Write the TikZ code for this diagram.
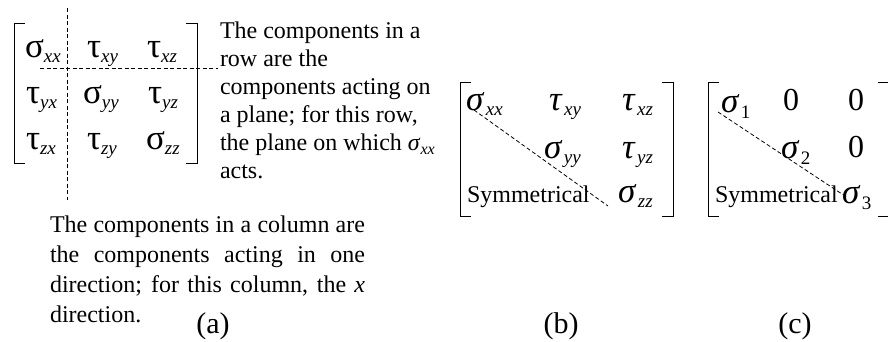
\documentclass[tikz,border=0pt]{standalone}
\usepackage{fontspec}
\setmainfont{Liberation Serif}
\usepackage{tikz}
\usetikzlibrary{positioning}
\newcommand{\subsz}{\fontsize{19}{19}\selectfont}
\newcommand{\upc}[2]{#1\raisebox{-5pt}{\subsz\itshape #2}}
\newcommand{\itc}[2]{\textit{#1}\kern1.5pt\raisebox{-5pt}{\subsz\itshape #2}}
\newcommand{\itd}[2]{\textit{#1}\kern1.5pt\raisebox{-6pt}{\subsz #2}}
\newcommand{\brackL}[3]{\draw[brak] (#1+11,#2) -- (#1,#2) -- (#1,#3) -- (#1+11,#3);}
\newcommand{\brackR}[3]{\draw[brak] (#1-11,#2) -- (#1,#2) -- (#1,#3) -- (#1-11,#3);}

\begin{document}
\begin{tikzpicture}[x=1pt, y=-1pt,
    every node/.style={inner sep=0pt, outer sep=0pt},
    entry/.style={anchor=base west, font=\fontsize{35}{35}\selectfont},
    note/.style={anchor=base west, font=\fontsize{24}{28}\selectfont, align=left},
    guide/.style={line width=0.8pt, dash pattern=on 4pt off 2.5pt},
    brak/.style={line width=1pt},
    digit/.style={entry, font=\fontsize{32}{32}\selectfont},
    tag/.style={anchor=base, font=\fontsize{30}{30}\selectfont}]
    \useasboundingbox (0,0) rectangle (888,341);

    % (a) general stress tensor
    \brackL{14}{23}{163}
    \brackR{197}{23}{163}
    \node[entry] (a11) at (25,57) {\upc{σ}{xx}};
    \node[entry] (a12) at (87,57) {\upc{τ}{xy}};
    \node[entry] (a13) at (147,57) {\upc{τ}{xz}};
    \node[entry] (a21) at (26,103) {\upc{τ}{yx}};
    \node[entry] (a22) at (83,103) {\upc{σ}{yy}};
    \node[entry] (a23) at (148,103) {\upc{τ}{yz}};
    \node[entry] (a31) at (26,149) {\upc{τ}{zx}};
    \node[entry] (a32) at (87,149) {\upc{τ}{zy}};
    \node[entry] (a33) at (146,149) {\upc{σ}{zz}};
    \coordinate (coltop) at (67,8);
    \coordinate (colbot) at (67,200);
    \coordinate (rowleft) at (40,68);
    \coordinate (rowright) at (218,68);
    \draw[guide] (coltop) -- (colbot);
    \draw[guide] (rowleft) -- (rowright);
    \node[note] (rownote) at (220,178)
        {The components in a\\row are the\\components acting on\\a plane; for this row,\\the plane on which \textit{σ}\raisebox{-4pt}{\fontsize{16}{16}\selectfont\itshape xx}\\acts.};
    \node[note, text width=315pt, align=justify, font=\fontsize{24}{30}\selectfont] (colnote) at (50,232)
        {The components in a column are\linebreak the components acting in one\linebreak direction; for this column, the \textit{x}\linebreak direction.};
    \node[tag] (taga) at (213,333) {(a)};

    % (b) symmetric form
    \brackL{460}{82}{216}
    \brackR{673}{82}{216}
    \node[entry] (b11) at (466,110) {\itc{σ}{xx}};
    \node[entry] (b12) at (549,110) {\itc{τ}{xy}};
    \node[entry] (b13) at (622,110) {\itc{τ}{xz}};
    \node[entry] (b22) at (544,158) {\itc{σ}{yy}};
    \node[entry] (b23) at (622,158) {\itc{τ}{yz}};
    \node[note] (bsym) at (467,202) {Symmetrical};
    \node[entry] (b33) at (618,202) {\itc{σ}{zz}};
    \coordinate (bdiagA) at (474,110);
    \coordinate (bdiagB) at (608,206);
    \draw[guide] (bdiagA) -- (bdiagB);
    \node[tag] (tagb) at (561,333) {(b)};

    % (c) principal stresses
    \brackL{708}{82}{216}
    \brackR{889}{82}{216}
    \node[entry] (c11) at (721,112) {\itd{σ}{1}};
    \node[digit] (c12) at (783,110) {0};
    \node[digit] (c13) at (848,110) {0};
    \node[entry] (c22) at (781,158) {\itd{σ}{2}};
    \node[digit] (c23) at (848,157) {0};
    \node[note] (csym) at (715,202) {Symmetrical};
    \node[entry] (c33) at (842,203) {\itd{σ}{3}};
    \coordinate (cdiagA) at (718,112);
    \coordinate (cdiagB) at (848,198);
    \draw[guide] (cdiagA) -- (cdiagB);
    \node[tag] (tagc) at (795,333) {(c)};
\end{tikzpicture}
\end{document}
